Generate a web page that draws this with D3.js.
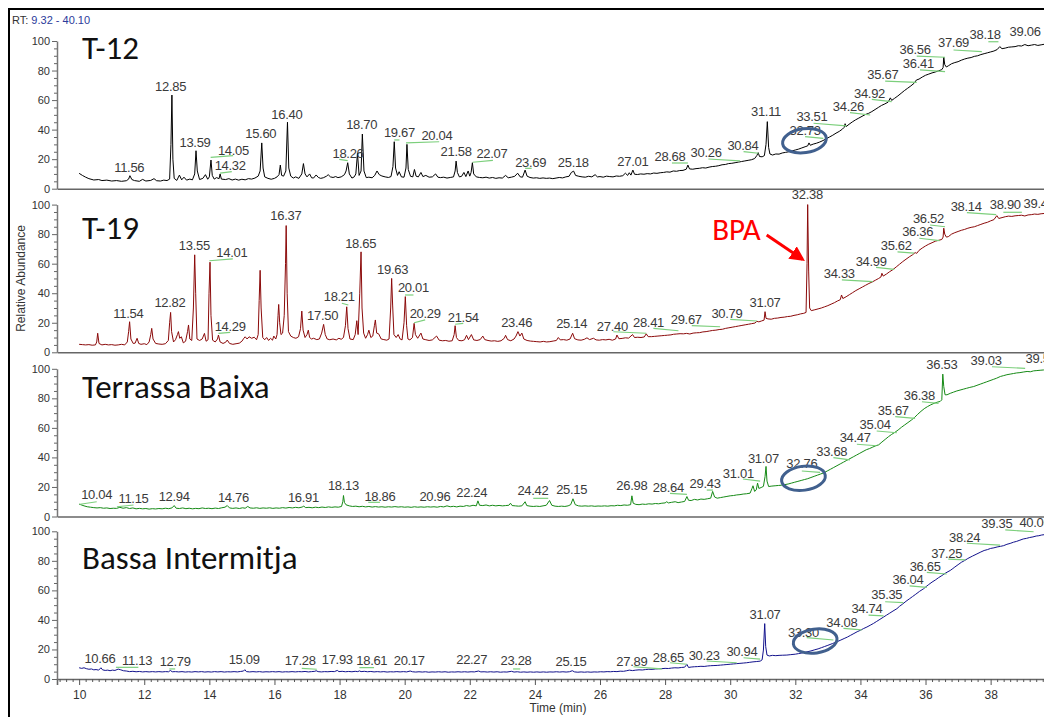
<!DOCTYPE html>
<html><head><meta charset="utf-8">
<script src="https://cdn.jsdelivr.net/npm/d3@7"></script>
<style>
html,body{margin:0;padding:0;background:#fff;}
svg{display:block;}
</style></head>
<body><svg id="c" width="1044" height="717"></svg>
<script>
// ---------------- DATA ----------------
const timeRange = [9.32, 40.10];
const yTickValues = [0, 20, 40, 60, 80, 100];
const xTickValues = [10, 12, 14, 16, 18, 20, 22, 24, 26, 28, 30, 32, 34, 36, 38];
const panelNames = ["T-12", "T-19", "Terrassa Baixa", "Bassa Intermitja"];

const traceT12 = [[10.0,10.4],[10.1,9.0],[10.2,7.8],[10.3,6.8],[10.45,5.9],[10.6,6.2],[10.7,5.5],[10.85,5.8],[11.0,5.2],[11.15,5.5],[11.3,5.0],[11.45,5.4],[11.52,6.5],[11.56,8.8],[11.62,6.2],[11.7,5.5],[11.85,5.0],[11.95,6.3],[12.05,5.2],[12.2,5.6],[12.3,6.8],[12.38,5.4],[12.5,5.2],[12.6,5.8],[12.7,5.5],[12.78,6.5],[12.82,30],[12.85,63.4],[12.88,20],[12.92,7],[13.0,5.6],[13.08,9.2],[13.15,6.0],[13.22,7.8],[13.3,5.8],[13.4,6.5],[13.48,6.0],[13.55,10],[13.59,25.7],[13.63,12],[13.7,6.2],[13.8,7.0],[13.88,9.5],[13.95,6.4],[14.0,8.0],[14.05,19.4],[14.09,9],[14.15,6.5],[14.22,7.5],[14.3,6.8],[14.33,10],[14.37,6.5],[14.5,6.2],[14.6,6.8],[14.7,5.9],[14.8,6.5],[14.9,5.8],[15.0,6.4],[15.1,6.0],[15.2,6.8],[15.3,6.5],[15.4,7.2],[15.5,8.5],[15.56,12],[15.61,31],[15.65,14],[15.7,8],[15.8,7.0],[15.9,6.4],[16.0,7.0],[16.08,8.0],[16.14,9.5],[16.18,16],[16.22,9],[16.28,8.5],[16.35,12],[16.40,45],[16.44,14],[16.5,8.5],[16.58,7.2],[16.65,8.0],[16.75,7.0],[16.84,10],[16.89,17],[16.94,10],[17.0,8.0],[17.08,10],[17.14,7.4],[17.2,7.2],[17.28,9.3],[17.35,7.6],[17.42,7.0],[17.5,7.4],[17.6,8.5],[17.65,9.5],[17.72,8.0],[17.8,7.6],[17.88,8.2],[17.95,7.5],[18.05,8.0],[18.15,9.5],[18.2,12],[18.25,17.6],[18.3,10],[18.38,7.2],[18.45,8.0],[18.5,10],[18.55,24],[18.6,9],[18.66,12],[18.70,37],[18.75,12],[18.82,7.5],[18.9,7.8],[19.0,7.4],[19.08,9.0],[19.15,12],[19.22,9.5],[19.3,8.6],[19.4,8.0],[19.5,7.6],[19.58,8.2],[19.64,15],[19.68,31.8],[19.72,14],[19.78,9],[19.83,11.5],[19.9,8.0],[19.98,7.8],[20.04,14],[20.07,30],[20.11,13],[20.18,8.4],[20.25,8.0],[20.3,13],[20.35,8.5],[20.42,8.0],[20.5,11],[20.56,8.2],[20.65,9.0],[20.75,7.8],[20.85,8.0],[20.95,10],[21.02,7.8],[21.1,7.5],[21.2,7.8],[21.3,7.2],[21.4,7.6],[21.5,8.0],[21.55,12],[21.58,18.7],[21.62,11],[21.68,8.0],[21.75,8.4],[21.82,11],[21.88,8.2],[21.95,12],[22.0,8.5],[22.04,11],[22.08,17.6],[22.12,10],[22.2,8.0],[22.3,7.6],[22.4,7.4],[22.5,7.8],[22.6,7.2],[22.7,7.6],[22.8,7.0],[22.9,7.4],[23.0,7.2],[23.1,9.0],[23.18,7.4],[23.28,7.8],[23.38,8.4],[23.47,10.5],[23.55,8.0],[23.62,7.8],[23.7,12.6],[23.76,8.5],[23.85,7.6],[23.95,7.2],[24.05,7.4],[24.15,7.0],[24.25,7.3],[24.35,7.0],[24.45,7.2],[24.55,6.8],[24.65,7.2],[24.75,7.6],[24.85,7.3],[24.95,8.0],[25.05,8.4],[25.12,11],[25.19,11.9],[25.25,9.0],[25.35,8.4],[25.45,8.0],[25.55,7.8],[25.65,8.4],[25.75,8.0],[25.85,9.5],[25.92,8.0],[26.0,8.2],[26.1,7.8],[26.2,8.5],[26.3,8.2],[26.4,8.0],[26.5,8.6],[26.6,8.4],[26.7,8.8],[26.78,10.5],[26.85,9.0],[26.9,10.8],[26.95,9.2],[27.01,12.6],[27.06,9.8],[27.15,9.6],[27.25,10.0],[27.35,9.8],[27.45,10.2],[27.55,10.0],[27.65,10.6],[27.75,10.4],[27.85,10.8],[27.95,11.0],[28.05,11.4],[28.15,11.2],[28.25,12.0],[28.35,11.8],[28.45,12.3],[28.55,12.4],[28.65,13.2],[28.70,16],[28.75,13.4],[28.85,13.2],[28.95,13.6],[29.05,13.8],[29.15,14.2],[29.25,14.0],[29.35,14.6],[29.45,15.0],[29.55,15.2],[29.65,15.6],[29.75,16.2],[29.85,16.4],[29.95,17.0],[30.05,17.2],[30.15,17.6],[30.25,18.0],[30.35,18.4],[30.45,18.8],[30.55,19.2],[30.65,19.6],[30.75,20.4],[30.82,22.5],[30.86,24.4],[30.9,21.8],[30.98,21.6],[31.05,22.4],[31.10,30],[31.14,45.4],[31.18,28],[31.22,23.5],[31.3,22.8],[31.4,23.5],[31.5,23.4],[31.6,24.2],[31.7,24.6],[31.8,25.0],[31.9,25.6],[32.0,26.2],[32.1,26.8],[32.2,27.6],[32.3,28.4],[32.38,29.0],[32.42,31],[32.46,29.4],[32.55,30.2],[32.65,30.8],[32.75,31.6],[32.85,32.6],[32.95,33.8],[33.05,35.0],[33.15,36.2],[33.25,37.6],[33.35,38.8],[33.45,40.4],[33.5,41.5],[33.53,44],[33.56,42],[33.65,43.6],[33.75,45.2],[33.85,46.6],[33.95,47.8],[34.05,49.0],[34.15,50.2],[34.25,51.0],[34.35,52.2],[34.45,53.6],[34.55,55.0],[34.65,56.4],[34.75,57.4],[34.85,58.6],[34.92,61.5],[34.96,59.8],[35.05,61.2],[35.15,62.8],[35.25,64.6],[35.35,66.4],[35.45,68.0],[35.55,69.6],[35.65,71.4],[35.72,73.6],[35.8,74.2],[35.9,75.6],[36.0,76.8],[36.1,77.6],[36.2,78.4],[36.3,79.0],[36.4,79.8],[36.5,80.6],[36.54,82],[36.56,89],[36.59,84],[36.64,82.4],[36.7,83.2],[36.8,84.6],[36.9,85.4],[37.0,86.0],[37.1,87.0],[37.2,87.8],[37.3,88.4],[37.4,88.8],[37.5,89.6],[37.6,90.0],[37.7,90.8],[37.8,91.4],[37.9,92.0],[38.0,92.6],[38.1,93.2],[38.2,94.2],[38.28,96.2],[38.35,94.8],[38.45,95.2],[38.55,95.8],[38.65,96.0],[38.75,96.2],[38.85,96.8],[38.95,96.6],[39.05,97.6],[39.15,96.8],[39.25,97.2],[39.35,97.6],[39.45,97.0],[39.55,97.4],[39.65,97.8],[39.75,97.4],[39.85,97.8],[39.95,97.6],[40.05,98.0]];

const traceT19 = [[10.0,5.4],[10.1,5.2],[10.2,5.0],[10.3,5.2],[10.4,4.8],[10.5,5.0],[10.54,7],[10.57,12.9],[10.61,6],[10.7,5.0],[10.8,5.4],[10.9,5.0],[11.0,5.2],[11.1,4.8],[11.2,5.0],[11.3,5.4],[11.4,5.0],[11.48,7],[11.52,14],[11.55,20.7],[11.59,9],[11.66,6],[11.72,6.2],[11.78,9.5],[11.83,6],[11.9,5.4],[12.0,5.8],[12.08,5.2],[12.15,7],[12.2,12],[12.23,16.2],[12.27,9],[12.35,6],[12.45,5.6],[12.55,5.4],[12.65,5.8],[12.74,8],[12.78,20],[12.81,27],[12.84,14],[12.9,7],[12.96,8.5],[13.02,12],[13.05,14],[13.09,9.5],[13.14,10.5],[13.2,6.4],[13.27,7.5],[13.33,14],[13.36,18.5],[13.4,9],[13.46,8],[13.51,30],[13.55,66],[13.58,40],[13.62,9],[13.7,8],[13.78,9],[13.85,12.8],[13.9,7.5],[13.96,8.5],[13.99,40],[14.02,61],[14.05,25],[14.1,8.2],[14.18,7.0],[14.25,9],[14.28,11.7],[14.33,7.0],[14.42,6.0],[14.5,6.8],[14.55,8.3],[14.62,6.0],[14.72,5.4],[14.82,5.8],[14.92,6.2],[15.0,7.5],[15.06,9.5],[15.1,10.5],[15.16,9],[15.22,10.5],[15.3,9.5],[15.38,10.2],[15.45,8.5],[15.5,12],[15.53,35],[15.56,55.5],[15.59,30],[15.64,10],[15.7,8.5],[15.76,10],[15.82,8],[15.88,9.5],[15.94,8.2],[15.98,11],[16.04,9],[16.08,12],[16.11,25],[16.13,32.4],[16.16,20],[16.2,12],[16.25,13],[16.3,25],[16.34,60],[16.36,85.8],[16.39,40],[16.43,14],[16.5,11],[16.58,10],[16.66,9.5],[16.74,10.5],[16.8,16],[16.84,27.9],[16.88,15],[16.94,10],[17.0,12],[17.04,15],[17.08,10],[17.14,9.0],[17.2,9.5],[17.3,8.6],[17.38,9.0],[17.45,13],[17.51,18.9],[17.56,12],[17.62,9],[17.7,8.5],[17.8,9.0],[17.9,8.4],[17.98,9.5],[18.05,8.8],[18.12,10],[18.18,18],[18.22,30.8],[18.26,16],[18.32,9],[18.42,8.6],[18.48,12],[18.53,21.4],[18.57,12],[18.62,40],[18.66,68],[18.69,30],[18.74,13],[18.8,9.5],[18.86,12],[18.9,15],[18.96,10],[19.02,11],[19.07,18],[19.1,21.9],[19.14,13],[19.2,12.5],[19.28,9.0],[19.36,8.6],[19.45,8.2],[19.52,9],[19.57,30],[19.6,50],[19.63,32],[19.67,12],[19.74,10],[19.8,12],[19.86,9],[19.92,8.4],[19.98,20],[20.02,37.7],[20.06,18],[20.1,9],[20.16,8.4],[20.24,10],[20.29,19.6],[20.33,12],[20.4,9.5],[20.5,13],[20.56,9],[20.65,8.5],[20.75,8.0],[20.85,8.4],[20.98,11],[21.06,8.2],[21.16,7.8],[21.26,8.0],[21.36,7.5],[21.46,7.8],[21.52,12],[21.55,18],[21.59,10],[21.66,8.0],[21.76,7.8],[21.84,8.5],[21.9,11.5],[21.96,8.6],[22.05,12],[22.12,8.4],[22.22,8.0],[22.32,8.6],[22.4,11],[22.46,8.6],[22.56,8.0],[22.66,7.6],[22.76,7.8],[22.86,7.4],[22.96,7.8],[23.06,9.5],[23.1,11.5],[23.16,8.6],[23.26,7.8],[23.36,9.0],[23.42,11],[23.48,14],[23.54,11],[23.6,13],[23.66,9.0],[23.76,8.0],[23.86,7.6],[23.96,7.4],[24.06,7.2],[24.16,7.0],[24.26,7.4],[24.36,7.0],[24.46,7.2],[24.56,7.6],[24.66,8.0],[24.72,10],[24.78,8.4],[24.88,8.6],[24.98,8.2],[25.08,9.0],[25.16,12.9],[25.22,9.2],[25.32,8.4],[25.42,8.2],[25.52,8.8],[25.6,9.8],[25.68,8.6],[25.8,9.5],[25.88,8.4],[25.98,8.2],[26.08,8.6],[26.18,8.4],[26.28,8.8],[26.38,8.2],[26.48,9.0],[26.52,11.7],[26.58,9.2],[26.68,9.4],[26.78,9.8],[26.88,9.6],[27.0,12],[27.06,10],[27.16,10.2],[27.26,10.0],[27.36,10.4],[27.42,12.5],[27.48,10.6],[27.58,10.6],[27.68,10.8],[27.78,11.0],[27.88,11.2],[27.98,11.4],[28.08,11.6],[28.18,11.8],[28.26,12.2],[28.36,12.4],[28.46,12.6],[28.56,12.5],[28.66,12.8],[28.76,12.4],[28.86,13.0],[28.96,13.2],[29.06,13.3],[29.16,13.8],[29.26,14.0],[29.36,14.4],[29.46,14.8],[29.56,15.0],[29.66,15.4],[29.76,15.6],[29.86,16.2],[29.96,16.6],[30.06,17.0],[30.16,17.4],[30.26,17.8],[30.36,18.2],[30.46,18.6],[30.56,19.0],[30.66,19.4],[30.76,19.8],[30.82,21],[30.88,20.6],[30.96,21.2],[31.04,21.8],[31.07,27.5],[31.1,23],[31.16,22.6],[31.26,22.4],[31.36,23.0],[31.46,23.2],[31.56,23.6],[31.66,23.8],[31.76,24.2],[31.86,24.4],[31.96,25.0],[32.06,25.4],[32.16,26.0],[32.26,26.4],[32.33,27],[32.36,60],[32.38,100],[32.41,55],[32.44,30],[32.49,28.2],[32.6,28.8],[32.7,29.4],[32.8,30.0],[32.9,30.8],[33.0,31.6],[33.1,32.6],[33.2,33.6],[33.3,34.8],[33.38,35.6],[33.42,38.8],[33.46,36.4],[33.56,37.6],[33.66,39.0],[33.76,40.4],[33.86,41.8],[33.96,43.0],[34.06,44.2],[34.16,45.4],[34.26,46.6],[34.36,47.6],[34.46,48.8],[34.56,50.0],[34.63,51.0],[34.66,53.5],[34.7,51.6],[34.8,53.0],[34.9,54.6],[35.0,56.0],[35.1,57.8],[35.2,59.6],[35.3,61.4],[35.4,63.0],[35.5,64.6],[35.6,66.0],[35.68,67.5],[35.73,67.0],[35.8,69.0],[35.9,70.6],[36.0,72.0],[36.1,73.2],[36.2,74.2],[36.3,75.2],[36.4,75.8],[36.5,76.4],[36.54,78],[36.56,84],[36.59,80],[36.64,78.0],[36.7,78.3],[36.8,80.0],[36.9,81.0],[37.0,81.8],[37.1,82.6],[37.2,83.2],[37.3,84.0],[37.4,84.6],[37.5,85.0],[37.6,85.8],[37.7,86.6],[37.8,87.4],[37.9,88.0],[38.0,89.0],[38.1,89.8],[38.19,92.5],[38.25,90.6],[38.35,91.2],[38.45,91.8],[38.55,92.2],[38.65,92.0],[38.75,92.4],[38.85,92.6],[38.95,92.8],[39.05,92.3],[39.15,93.0],[39.25,93.2],[39.35,93.6],[39.45,93.4],[39.55,93.8],[39.65,94.0],[39.75,93.8],[39.85,94.2],[39.95,94.0],[40.05,94.4]];

const traceTerrassa = [[10.0,8.4],[10.05,8.0],[10.15,7.2],[10.25,6.6],[10.35,6.3],[10.45,6.0],[10.55,5.8],[10.65,6.0],[10.75,5.6],[10.85,5.8],[10.95,5.4],[11.05,5.6],[11.15,5.5],[11.25,6.2],[11.35,5.6],[11.45,6.0],[11.55,5.4],[11.65,5.8],[11.75,5.2],[11.85,5.5],[11.95,5.2],[12.05,5.4],[12.15,5.0],[12.25,5.3],[12.35,5.1],[12.45,5.4],[12.55,5.2],[12.65,5.6],[12.75,5.3],[12.85,5.8],[12.92,7.4],[12.98,5.6],[13.08,5.4],[13.18,5.8],[13.28,5.3],[13.38,5.6],[13.48,5.2],[13.58,5.5],[13.68,5.3],[13.78,5.8],[13.88,5.4],[13.98,5.6],[14.08,5.3],[14.18,5.7],[14.28,5.4],[14.38,5.9],[14.48,6.3],[14.55,7.4],[14.62,5.8],[14.72,5.5],[14.82,5.8],[14.92,5.4],[15.02,5.9],[15.1,5.6],[15.18,6.8],[15.25,5.8],[15.35,5.6],[15.45,5.9],[15.55,5.5],[15.65,5.8],[15.75,5.6],[15.85,5.9],[15.95,5.5],[16.05,5.8],[16.15,5.6],[16.25,6.0],[16.35,5.7],[16.45,6.1],[16.55,5.8],[16.65,6.2],[16.75,5.9],[16.85,6.4],[16.9,7.0],[16.96,6.0],[17.06,6.2],[17.16,5.9],[17.26,6.3],[17.36,6.0],[17.46,6.4],[17.56,6.1],[17.66,6.5],[17.76,6.2],[17.86,6.5],[17.96,6.3],[18.06,6.8],[18.1,10],[18.12,14.2],[18.15,9.5],[18.2,7.9],[18.3,7.2],[18.4,6.8],[18.5,7.0],[18.6,6.6],[18.7,6.9],[18.8,6.5],[18.9,6.8],[19.0,6.4],[19.1,6.7],[19.2,6.4],[19.3,6.6],[19.4,6.3],[19.5,6.6],[19.6,6.4],[19.7,6.7],[19.8,6.4],[19.9,6.6],[20.0,6.3],[20.1,6.5],[20.2,6.2],[20.3,6.6],[20.4,6.3],[20.5,6.5],[20.6,6.3],[20.7,6.6],[20.8,6.4],[20.9,6.6],[21.0,6.3],[21.1,6.8],[21.2,6.5],[21.3,7.2],[21.4,6.6],[21.5,6.9],[21.6,6.5],[21.7,7.0],[21.8,6.8],[21.9,7.4],[22.0,7.0],[22.1,7.6],[22.2,7.2],[22.25,10.6],[22.3,7.6],[22.4,7.4],[22.5,7.8],[22.6,7.2],[22.7,7.6],[22.8,7.2],[22.9,7.5],[23.0,7.2],[23.1,7.4],[23.2,7.6],[23.25,9.0],[23.3,7.4],[23.4,7.2],[23.5,7.0],[23.6,7.2],[23.7,10],[23.75,7.4],[23.85,7.0],[23.95,6.8],[24.05,7.0],[24.15,6.8],[24.25,7.2],[24.35,7.6],[24.45,10.8],[24.52,7.6],[24.62,7.0],[24.72,6.8],[24.82,7.0],[24.92,6.8],[25.02,7.2],[25.1,8.0],[25.17,12],[25.24,8.0],[25.34,7.2],[25.44,7.0],[25.54,7.2],[25.64,7.0],[25.74,7.2],[25.84,6.9],[25.94,7.1],[26.04,7.0],[26.14,7.2],[26.24,7.0],[26.34,7.3],[26.44,7.2],[26.54,7.6],[26.64,7.4],[26.74,7.8],[26.84,7.6],[26.94,8.0],[26.98,14],[27.02,9.0],[27.1,8.2],[27.2,8.0],[27.3,8.4],[27.4,8.2],[27.5,8.6],[27.6,8.4],[27.7,8.8],[27.8,8.6],[27.9,9.0],[28.0,9.2],[28.05,10],[28.1,9.2],[28.2,9.6],[28.31,10],[28.4,9.4],[28.5,9.8],[28.6,10.2],[28.67,13.5],[28.72,11],[28.8,10.8],[28.9,11.6],[29.0,11.2],[29.1,11.8],[29.2,11.6],[29.3,12.0],[29.4,12.4],[29.46,17],[29.52,13.2],[29.6,12.4],[29.7,12.8],[29.8,13.2],[29.9,13.6],[30.0,14.0],[30.1,14.2],[30.2,14.6],[30.3,14.8],[30.4,15.2],[30.5,15.4],[30.61,15.8],[30.67,19],[30.7,20.8],[30.75,17],[30.8,18],[30.84,22.6],[30.88,19],[30.95,19.6],[31.02,20.4],[31.07,27],[31.1,33.9],[31.13,24],[31.18,20.3],[31.28,20.6],[31.38,20.8],[31.48,21.0],[31.58,21.2],[31.68,21.6],[31.78,22.0],[31.88,22.6],[31.98,23.2],[32.08,23.8],[32.18,24.4],[32.28,25.0],[32.38,25.6],[32.48,26.4],[32.58,27.2],[32.68,28.0],[32.78,28.8],[32.88,29.6],[32.98,30.8],[33.08,32.0],[33.18,33.2],[33.28,34.4],[33.38,35.6],[33.48,36.8],[33.58,38.0],[33.68,39.2],[33.78,40.4],[33.88,41.6],[33.98,42.8],[34.08,44.0],[34.18,45.2],[34.28,46.0],[34.38,47.0],[34.48,48.0],[34.56,48.5],[34.66,50.4],[34.76,52.2],[34.86,54.0],[34.96,55.6],[35.06,57.0],[35.16,58.6],[35.26,60.4],[35.36,62.0],[35.46,63.6],[35.56,65.2],[35.66,67.0],[35.76,69.2],[35.86,71.2],[35.96,73.0],[36.06,74.4],[36.16,75.6],[36.26,76.6],[36.36,77.4],[36.45,77.9],[36.5,79],[36.53,96.4],[36.56,88],[36.6,82.4],[36.66,82.4],[36.76,83.4],[36.86,84.2],[36.96,85.0],[37.06,85.6],[37.16,86.2],[37.26,86.8],[37.36,87.4],[37.48,88.0],[37.58,88.8],[37.68,89.6],[37.78,90.4],[37.88,91.2],[37.98,92.0],[38.08,92.8],[38.18,93.6],[38.3,94.8],[38.4,95.4],[38.5,96.0],[38.6,96.4],[38.7,96.8],[38.8,97.2],[38.9,97.4],[39.0,97.8],[39.12,98.2],[39.22,98.0],[39.32,98.6],[39.42,98.8],[39.52,99.0],[39.62,99.2],[39.72,99.1],[39.82,99.4],[39.92,99.3],[40.05,99.6]];

const traceBassa = [[10.0,7.6],[10.08,7.2],[10.15,7.6],[10.22,7.0],[10.3,6.6],[10.38,6.8],[10.45,6.2],[10.52,6.4],[10.6,6.0],[10.67,7.6],[10.72,6.2],[10.8,5.8],[10.88,6.0],[10.95,5.6],[11.02,6.0],[11.1,5.8],[11.2,6.7],[11.28,6.2],[11.36,5.6],[11.45,5.4],[11.55,5.0],[11.65,5.2],[11.75,4.9],[11.85,5.1],[11.95,4.8],[12.05,5.0],[12.15,4.8],[12.25,5.0],[12.35,4.8],[12.45,5.0],[12.55,4.8],[12.65,5.0],[12.75,4.9],[12.8,5.8],[12.86,4.9],[12.96,5.0],[13.06,4.8],[13.16,5.0],[13.26,4.7],[13.36,4.9],[13.46,4.7],[13.56,5.0],[13.66,4.8],[13.76,5.0],[13.86,4.7],[13.96,4.9],[14.06,4.7],[14.16,5.0],[14.26,4.8],[14.36,5.0],[14.46,4.7],[14.56,4.9],[14.66,4.8],[14.76,5.0],[14.86,4.8],[14.96,5.1],[15.05,5.4],[15.09,6.3],[15.14,5.0],[15.24,4.8],[15.34,5.0],[15.44,4.8],[15.54,5.0],[15.64,4.7],[15.74,4.9],[15.84,4.8],[15.94,5.0],[16.04,4.8],[16.14,5.0],[16.24,4.7],[16.34,4.9],[16.44,4.8],[16.54,5.0],[16.64,4.8],[16.74,5.0],[16.84,4.9],[16.94,5.1],[17.04,4.8],[17.14,5.0],[17.24,5.2],[17.28,5.6],[17.34,5.0],[17.44,4.8],[17.54,5.0],[17.64,4.9],[17.74,5.1],[17.84,5.0],[17.93,5.8],[17.98,5.0],[18.08,5.2],[18.18,4.9],[18.28,5.1],[18.38,4.9],[18.48,5.2],[18.56,5.0],[18.61,5.5],[18.66,5.0],[18.76,5.2],[18.86,4.9],[18.96,5.1],[19.06,4.8],[19.16,5.0],[19.26,4.8],[19.36,5.0],[19.46,4.7],[19.56,4.9],[19.66,4.8],[19.76,5.0],[19.86,4.8],[19.96,5.0],[20.06,4.8],[20.17,5.4],[20.24,4.9],[20.34,4.7],[20.44,4.9],[20.54,4.7],[20.64,4.9],[20.74,4.6],[20.84,4.8],[20.94,4.7],[21.04,4.9],[21.14,4.7],[21.24,4.9],[21.34,4.6],[21.44,4.8],[21.54,4.7],[21.64,4.9],[21.74,4.7],[21.84,4.9],[21.94,4.7],[22.04,4.9],[22.14,4.8],[22.27,5.4],[22.34,4.8],[22.44,4.9],[22.54,4.7],[22.64,4.9],[22.74,4.7],[22.84,4.9],[22.94,4.6],[23.04,4.8],[23.14,4.7],[23.28,5.2],[23.36,4.7],[23.46,4.9],[23.56,4.6],[23.66,4.8],[23.76,4.6],[23.86,4.8],[23.96,4.6],[24.06,4.8],[24.16,4.6],[24.26,4.8],[24.36,4.6],[24.46,4.8],[24.56,4.7],[24.66,4.9],[24.76,4.7],[24.86,4.9],[24.96,4.7],[25.06,4.9],[25.15,5.6],[25.22,4.8],[25.32,4.6],[25.42,4.8],[25.52,4.6],[25.62,4.8],[25.72,4.6],[25.82,4.8],[25.92,4.7],[26.02,4.9],[26.12,4.8],[26.22,5.0],[26.32,4.9],[26.42,5.1],[26.52,5.0],[26.62,5.3],[26.72,5.2],[26.82,5.6],[26.9,6.0],[27.0,5.7],[27.1,6.0],[27.2,6.2],[27.3,6.1],[27.4,6.4],[27.5,6.6],[27.6,6.5],[27.7,6.8],[27.8,6.9],[27.9,7.0],[28.0,7.2],[28.1,7.1],[28.2,7.4],[28.3,7.6],[28.4,7.5],[28.5,7.8],[28.6,8.0],[28.67,9.9],[28.72,7.8],[28.8,8.1],[28.9,8.3],[29.0,8.4],[29.1,8.6],[29.2,8.5],[29.3,8.8],[29.4,9.0],[29.5,9.1],[29.6,9.2],[29.7,9.4],[29.8,9.6],[29.9,9.8],[30.0,10.0],[30.1,10.2],[30.2,10.4],[30.3,10.6],[30.4,10.8],[30.5,11.0],[30.6,11.3],[30.7,11.6],[30.8,11.8],[30.92,12.1],[30.98,13.0],[31.02,19.6],[31.06,37.5],[31.09,22.0],[31.13,16.2],[31.2,15.6],[31.3,16.0],[31.4,15.8],[31.5,16.0],[31.6,16.1],[31.74,16.2],[31.86,16.5],[32.0,16.8],[32.1,17.2],[32.2,17.6],[32.36,18.4],[32.48,19.0],[32.6,19.8],[32.7,20.4],[32.8,21.2],[32.9,22.0],[33.0,22.8],[33.14,24.0],[33.28,25.2],[33.4,26.4],[33.5,27.4],[33.6,28.4],[33.7,29.6],[33.8,30.8],[33.9,32.0],[34.0,33.0],[34.1,34.2],[34.2,35.2],[34.3,36.4],[34.4,37.6],[34.5,39.0],[34.6,40.4],[34.7,41.8],[34.8,43.2],[34.9,44.6],[35.0,46.0],[35.12,47.6],[35.2,49.2],[35.3,50.8],[35.4,52.6],[35.5,54.2],[35.6,55.8],[35.7,57.4],[35.82,59.4],[35.94,61.1],[36.02,62.6],[36.1,64.0],[36.2,65.6],[36.3,67.0],[36.4,68.6],[36.5,70.0],[36.62,71.8],[36.76,73.5],[36.84,74.8],[36.9,75.8],[37.0,77.4],[37.1,79.0],[37.2,80.2],[37.3,81.6],[37.44,83.2],[37.58,84.7],[37.7,86.0],[37.8,87.0],[37.9,87.6],[38.0,88.4],[38.1,88.8],[38.2,89.4],[38.3,89.8],[38.4,90.3],[38.5,91.2],[38.6,91.8],[38.7,92.6],[38.8,93.2],[38.9,94.0],[39.0,94.8],[39.1,95.2],[39.2,95.8],[39.3,96.2],[39.4,96.8],[39.48,97.0],[39.57,97.5],[39.68,97.8],[39.8,98.2],[39.9,98.4],[40.05,98.8]];

// peak labels: [text, time, abundance]
const labelsT12 = [["11.56",11.54,11.5],["12.85",12.81,66.4],["13.59",13.56,28.4],["14.05",14.74,22.8],["14.32",14.64,12.7],["15.60",15.58,34.1],["16.40",16.38,47.4],["18.26",18.26,20.6],["18.70",18.68,40.2],["19.67",19.84,34.8],["20.04",20.99,33],["21.58",21.58,22.1],["22.07",22.68,20.6],["23.69",23.87,14.9],["25.18",25.18,14.9],["27.01",27.01,15.6],["28.68",28.15,18.8],["30.26",29.26,21.3],["30.84",30.39,26.1],["31.11",31.10,49.2],["32.73",32.30,36.4],["33.51",32.51,46],["34.26",33.63,52.6],["34.92",34.28,61.6],["35.67",34.69,74.1],["36.41",35.78,81.5],["36.56",35.68,91.2],["37.69",36.86,96.1],["38.18",37.83,101.2],["39.06",39.06,103.4]];
const labelsT19 = [["11.54",11.51,23.4],["12.82",12.79,30.9],["13.55",13.54,69.3],["14.01",14.69,64.7],["14.29",14.64,14.4],["16.37",16.35,89.6],["17.50",17.48,21.9],["18.21",17.99,34.7],["18.65",18.65,70.4],["19.63",19.63,52.8],["20.01",20.27,40.6],["20.29",20.63,23.0],["21.54",21.80,20.7],["23.46",23.44,17.3],["25.14",25.13,16.2],["27.40",26.38,14.6],["28.41",27.49,16.9],["29.67",28.65,19.2],["30.79",29.90,23.0],["31.07",31.07,30.9],["32.38",32.37,103.6],["34.33",33.35,50.1],["34.99",34.33,58.4],["35.62",35.10,69.3],["36.36",35.76,78.9],["36.52",36.09,87.3],["38.14",37.25,95.9],["38.90",38.45,96.8],["39.47",39.49,97.5]];
const labelsTerrassa = [["10.04",10.54,11.8],["11.15",11.67,9.3],["12.94",12.92,10.7],["14.76",14.74,10.0],["16.91",16.89,10.0],["18.13",18.12,17.9],["18.86",19.24,10.7],["20.96",20.93,10.7],["22.24",22.06,13.4],["24.42",23.94,14.6],["25.15",25.13,15.0],["26.98",26.98,17.9],["28.64",28.10,16.8],["29.43",29.23,19.5],["31.01",30.25,26.3],["31.07",31.02,36.0],["32.76",32.20,32.6],["33.68",33.12,41.2],["34.47",33.84,50.2],["35.04",34.45,59.2],["35.67",35.01,68.7],["36.38",35.81,78.9],["36.53",36.50,99.9],["39.03",37.86,102.6],["39.51",39.55,103.7]];
const labelsBassa = [["10.66",10.64,11.0],["11.13",11.78,9.5],["12.79",12.95,9.0],["15.09",15.07,10.2],["17.28",16.79,9.5],["17.93",17.93,10.2],["18.61",18.99,9.5],["20.17",20.14,9.5],["22.27",22.06,10.2],["23.28",23.42,9.5],["25.15",25.11,9.0],["27.89",26.98,9.0],["28.65",28.10,11.7],["30.23",29.20,12.9],["30.94",30.36,15.6],["31.07",31.07,40.6],["33.30",32.25,28.6],["34.08",33.43,35.4],["34.74",34.20,44.5],["35.35",34.81,54.0],["36.04",35.46,64.3],["36.65",35.99,73.1],["37.25",36.65,82.1],["38.24",37.20,92.6],["39.35",38.19,102.0],["40.06",39.36,103.1]];

// label leader lines: [t1, v1, t2, v2]
const leadersT12 = [[14.04,21.2,14.73,22.4],[14.33,10.6,14.69,11.5],[17.99,19.9,18.25,19.0],[19.68,33,19.84,33],[20.04,31,21.06,31.8],[22.09,17.9,22.71,19.2],[23.70,13.8,23.90,13.8],[28.21,17.4,28.70,17.4],[29.33,20.1,30.30,18.8],[30.41,25.1,30.87,24.0],[32.30,35.2,32.86,34.1],[32.56,44.3,33.57,42.5],[33.68,51.5,34.30,49.9],[34.35,60.5,34.96,58.9],[34.76,72.9,35.73,72.0],[35.83,80.4,36.60,79.2],[35.73,89.8,36.60,89.0],[36.86,93.9,37.73,92.8],[37.93,99.5,38.24,99.5]];
const leadersT19 = [[14.00,62.0,14.72,63.2],[14.28,12.8,14.64,13.5],[18.07,33.2,18.27,32.0],[20.01,38.8,20.27,38.8],[20.29,20.0,20.63,21.9],[21.55,19.0,21.80,19.6],[26.41,13.9,27.42,12.9],[27.64,16.2,28.41,14.6],[28.82,18.0,29.69,17.3],[30.00,22.3,30.82,21.2],[33.43,49.0,34.38,47.8],[34.48,57.5,35.04,56.2],[35.14,68.0,35.65,67.1],[35.81,77.2,36.43,75.6],[36.14,86.2,36.60,85.0],[37.27,94.5,38.17,93.2],[38.39,94.8,38.96,94.8]];
const leadersTerrassa = [[10.03,8.3,10.54,10.0],[11.16,6.6,11.67,7.8],[18.88,9.6,19.24,9.6],[23.95,12.3,24.41,12.3],[28.15,15.7,28.67,15.0],[29.28,17.9,29.47,17.9],[30.39,25.4,30.92,24.0],[32.20,30.8,32.76,29.9],[33.17,39.8,33.68,38.3],[33.89,48.9,34.50,47.9],[34.50,57.9,35.12,56.7],[35.07,67.6,35.68,66.5],[35.89,77.7,36.40,76.6],[38.04,101.4,39.06,100.3]];
const leadersBassa = [[11.13,7.9,11.82,7.9],[12.77,6.8,12.95,6.8],[16.84,7.2,17.30,6.6],[18.61,7.7,19.06,7.7],[23.33,6.8,23.55,6.8],[27.03,8.3,27.90,6.8],[28.15,11.0,28.67,10.0],[29.28,12.2,30.20,11.0],[30.41,14.4,30.92,13.5],[32.35,28.0,33.17,26.4],[33.48,34.3,34.04,33.2],[34.25,43.3,34.71,42.8],[34.76,52.3,35.32,51.7],[35.51,63.0,36.04,62.1],[36.04,72.2,36.65,71.1],[36.70,81.2,37.22,80.6],[37.27,91.9,38.29,90.7],[38.45,100.9,39.32,99.7]];

// highlighted regions (circled): [panel, time, abundance]
const circledRegions = [[0,32.28,32.5],[2,32.25,25.9],[3,32.61,25.7]];
// BPA annotation in panel 2: text anchor and arrow [t1,v1,t2,v2]
const bpaText = ["BPA", 30.19, 76];
const bpaArrow = [31.12, 79.4, 32.22, 63.0];

// ---------------- LAYOUT ----------------
const traces = [traceT12, traceT19, traceTerrassa, traceBassa];
const labelSets = [labelsT12, labelsT19, labelsTerrassa, labelsBassa];
const leaderSets = [leadersT12, leadersT19, leadersTerrassa, leadersBassa];
const colors = ["#000000", "#8b0a0a", "#168a16", "#12128c"];
const bottoms = [188.7, 352.3, 516.5, 679];
const titleOffsets = [18, 34.6, 29.5, 37.3];
const plotH = 147.7;

const svg = d3.select("#c");
const x = d3.scaleLinear().domain(timeRange).range([57, 1059]);

// outer frame
svg.append("rect").attr("x", 9).attr("y", 9).attr("width", 1100).attr("height", 800)
  .attr("fill", "none").attr("stroke", "#000").attr("stroke-width", 2);

svg.append("text").attr("x", 12).attr("y", 24)
  .attr("font-family", "Liberation Sans, Arial, sans-serif").attr("font-size", 11)
  .call(t => {
    t.append("tspan").attr("fill", "#333").text("RT: ");
    t.append("tspan").attr("fill", "#2b3b9b").text("9.32 - 40.10");
  });

const defs = svg.append("defs");
defs.append("marker").attr("id", "arrowhead").attr("viewBox", "0 0 10 10")
  .attr("refX", 8).attr("refY", 5).attr("markerWidth", 5).attr("markerHeight", 5)
  .attr("orient", "auto").attr("markerUnits", "strokeWidth")
  .append("path").attr("d", "M0,0 L10,5 L0,10 z").attr("fill", "#ff0000");

panelNames.forEach((name, i) => {
  const y = d3.scaleLinear().domain([0, 100]).range([bottoms[i], bottoms[i] - plotH]);
  const g = svg.append("g");

  // x baseline / axis
  const xAxis = d3.axisBottom(x).tickSizeOuter(0);
  if (i === 3) {
    xAxis.tickValues(xTickValues).tickSize(6).tickFormat(d3.format("d"));
  } else {
    xAxis.tickValues([]);
  }
  const gx = g.append("g").attr("transform", `translate(0,${bottoms[i]})`).call(xAxis);
  gx.select(".domain").attr("stroke", "#666").attr("stroke-width", 1.6);
  gx.selectAll(".tick line").attr("stroke", "#555");
  gx.selectAll(".tick text").attr("font-family", "Liberation Sans, Arial, sans-serif")
    .attr("font-size", 12).attr("fill", "#333").attr("dy", "0.95em");
  if (i === 3) {
    const minor = d3.range(94, 401, 2).map(d => d / 10).filter(d => Math.round(d * 10) % 20 !== 0);
    g.append("g").attr("transform", `translate(0,${bottoms[i]})`)
      .call(d3.axisBottom(x).tickValues(minor).tickSize(3).tickFormat("").tickSizeOuter(0))
      .call(s => s.select(".domain").remove())
      .selectAll(".tick line").attr("stroke", "#555");
  }

  // y axis
  const gy = g.append("g").attr("transform", "translate(57,0)")
    .call(d3.axisLeft(y).tickValues(yTickValues).tickSize(5).tickSizeOuter(0));
  gy.select(".domain").attr("stroke", "#777").attr("stroke-width", 1.5);
  gy.selectAll(".tick line").attr("stroke", "#666");
  gy.selectAll(".tick text").attr("font-family", "Liberation Sans, Arial, sans-serif")
    .attr("font-size", 11).attr("fill", "#333").attr("x", -7);
  const yMinor = d3.range(5, 100, 5).filter(d => d % 20 !== 0);
  g.append("g").attr("transform", "translate(57,0)")
    .call(d3.axisLeft(y).tickValues(yMinor).tickSize(3).tickFormat("").tickSizeOuter(0))
    .call(s => s.select(".domain").remove())
    .selectAll(".tick line").attr("stroke", "#666");

  // trace
  const line = d3.line().x(d => x(d[0])).y(d => y(d[1]));
  g.append("path").datum(traces[i]).attr("d", line)
    .attr("fill", "none").attr("stroke", colors[i]).attr("stroke-width", 1)
    .attr("stroke-linejoin", "round");

  // leaders
  g.selectAll(".leader").data(leaderSets[i]).enter().append("line")
    .attr("x1", d => x(d[0])).attr("y1", d => y(d[1]))
    .attr("x2", d => x(d[2])).attr("y2", d => y(d[3]))
    .attr("stroke", "#7ccf7c").attr("stroke-width", 1.2);

  // labels
  g.selectAll(".lbl").data(labelSets[i]).enter().append("text")
    .attr("x", d => x(d[1])).attr("y", d => y(d[2]))
    .attr("text-anchor", "middle")
    .attr("font-family", "Liberation Sans, Arial, sans-serif").attr("font-size", 13)
    .attr("letter-spacing", "-0.3px")
    .attr("fill", "#3a3a3a").text(d => d[0]);

  // panel title
  g.append("text").attr("x", 82).attr("y", bottoms[i] - plotH + titleOffsets[i])
    .attr("font-family", "Carlito, Lato, sans-serif").attr("font-size", 33)
    .attr("fill", "#111").text(name);

  // circles
  circledRegions.filter(c => c[0] === i).forEach(c => {
    g.append("ellipse").attr("cx", x(c[1])).attr("cy", y(c[2]))
      .attr("rx", 22).attr("ry", 12)
      .attr("transform", `rotate(-8,${x(c[1])},${y(c[2])})`)
      .attr("fill", "none").attr("stroke", "#41608e").attr("stroke-width", 3);
  });

  if (i === 1) {
    g.append("text").attr("x", x(bpaText[1])).attr("y", y(bpaText[2]))
      .attr("text-anchor", "middle").attr("font-family", "Carlito, Lato, sans-serif")
      .attr("font-size", 31).attr("fill", "#ff0000").text(bpaText[0]);
    g.append("line").attr("x1", x(bpaArrow[0])).attr("y1", y(bpaArrow[1]))
      .attr("x2", x(bpaArrow[2])).attr("y2", y(bpaArrow[3]))
      .attr("stroke", "#ff0000").attr("stroke-width", 3)
      .attr("marker-end", "url(#arrowhead)");
    // y-axis title
    svg.append("text").attr("transform", `translate(25,${(bottoms[i] - plotH / 2) + 0}) rotate(-90)`)
      .attr("text-anchor", "middle").attr("font-family", "Liberation Sans, Arial, sans-serif")
      .attr("font-size", 12).attr("fill", "#333").text("Relative Abundance");
  }
});

svg.append("text").attr("x", 558).attr("y", 712).attr("text-anchor", "middle")
  .attr("font-family", "Liberation Sans, Arial, sans-serif").attr("font-size", 12)
  .attr("fill", "#333").text("Time (min)");
</script>
</body></html>
